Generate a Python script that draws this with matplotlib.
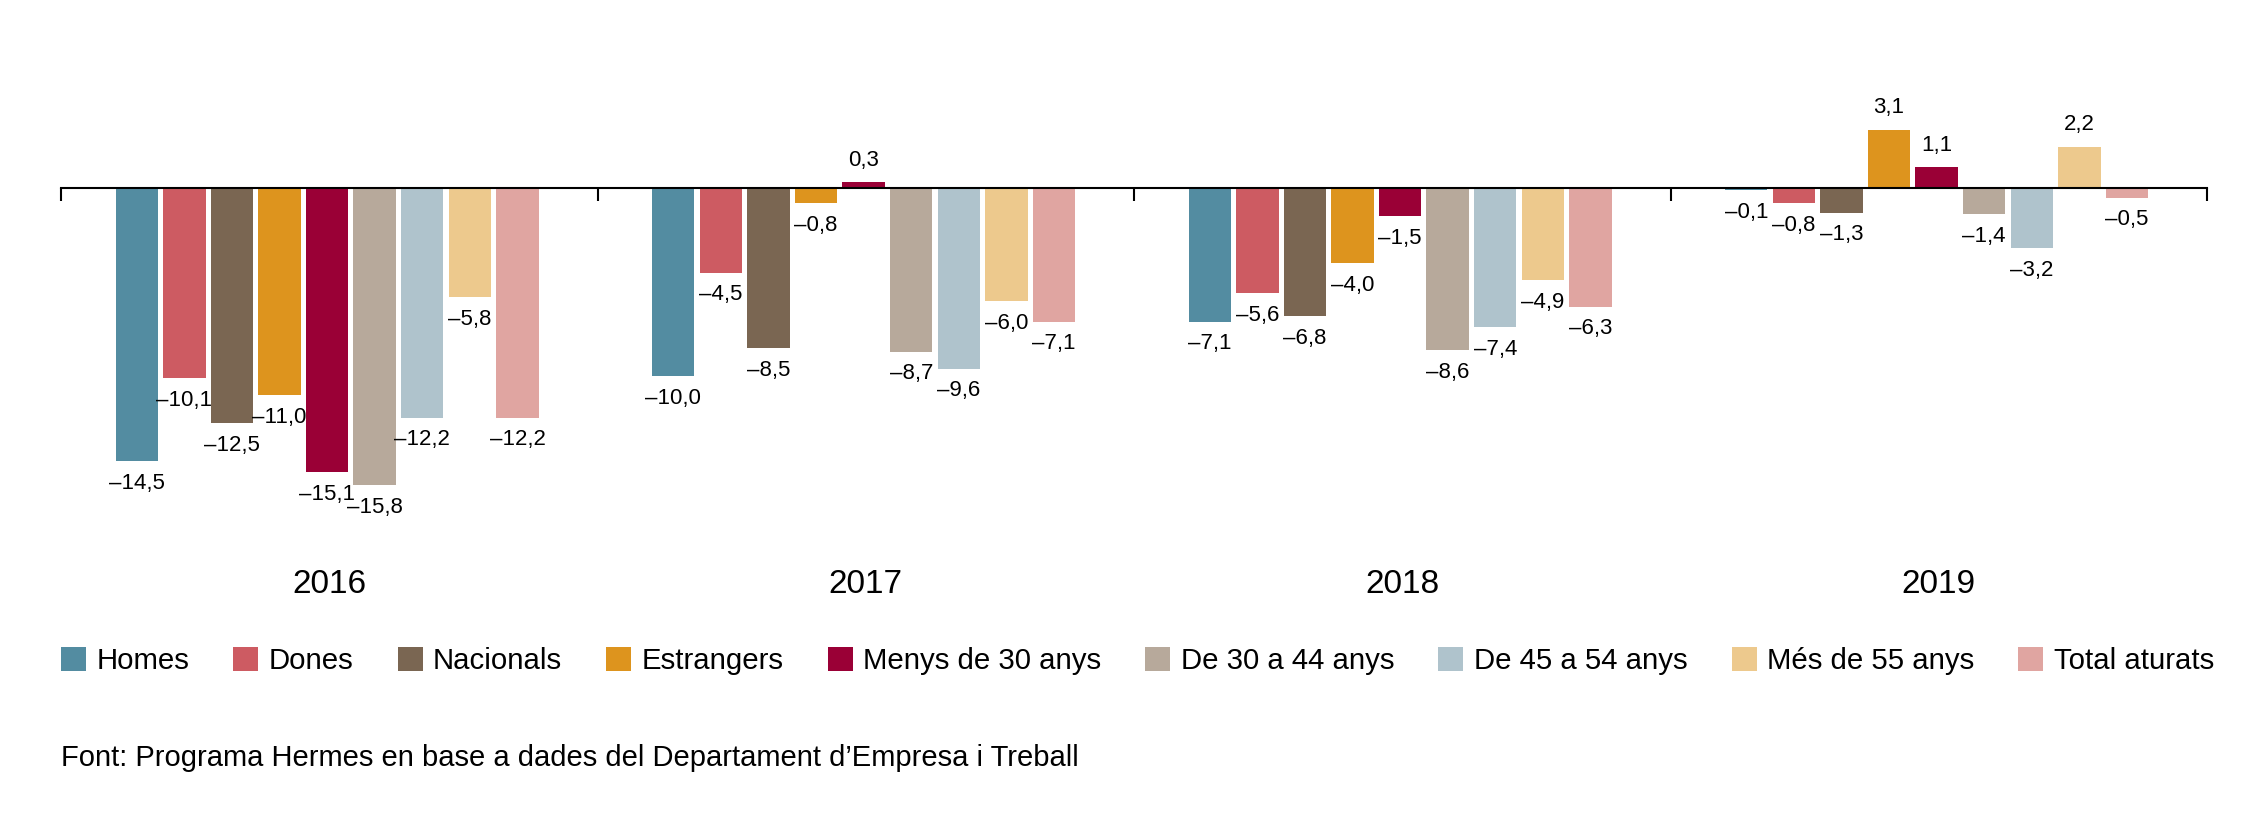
import numpy as np
import matplotlib
matplotlib.use("Agg")
import matplotlib.pyplot as plt
from matplotlib.patches import Patch

plt.rcParams['font.family'] = ['Liberation Sans', 'DejaVu Sans']

# dades
anys = ['2016', '2017', '2018', '2019']
series = ['Homes', 'Dones', 'Nacionals', 'Estrangers', 'Menys de 30 anys',
          'De 30 a 44 anys', 'De 45 a 54 anys', 'Més de 55 anys', 'Total aturats']
homes = [-14.5, -10.0, -7.1, -0.1]
dones = [-10.1, -4.5, -5.6, -0.8]
nacionals = [-12.5, -8.5, -6.8, -1.3]
estrangers = [-11.0, -0.8, -4.0, 3.1]
menys30 = [-15.1, 0.3, -1.5, 1.1]
de30a44 = [-15.8, -8.7, -8.6, -1.4]
de45a54 = [-12.2, -9.6, -7.4, -3.2]
mes55 = [-5.8, -6.0, -4.9, 2.2]
total = [-12.2, -7.1, -6.3, -0.5]
valors = [homes, dones, nacionals, estrangers, menys30, de30a44, de45a54, mes55, total]

colors = ['#538ca1', '#cd5b62', '#7a6652', '#dd941e', '#9a0036',
          '#b7a99b', '#afc3cc', '#edc98d', '#e0a5a1']

fig = plt.figure(figsize=(22.68, 8.33), dpi=100)
ax = fig.add_axes([61 / 2268, 0.3, (2207 - 61) / 2268, 0.7])

x = np.arange(len(anys))
pas = 0.0887
amplada = 0.079
for i, (vals, col) in enumerate(zip(valors, colors)):
    pos = x + (i - 4) * pas - 0.004
    ax.bar(pos, vals, width=amplada, color=col, zorder=1)
    for px, v in zip(pos, vals):
        txt = f"{abs(v):.1f}".replace('.', ',')
        if v < 0:
            txt = '–' + txt
        off = 16 if v > 0 else -16
        ax.annotate(txt, (px, v), xytext=(0, off), textcoords='offset points',
                    ha='center', va='center', fontsize=16)

ax.set_xlim(-0.5, 3.5)
ax.set_ylim(-21, 10)
for s in ['top', 'left', 'right']:
    ax.spines[s].set_visible(False)
ax.spines['bottom'].set_position(('data', 0))
ax.spines['bottom'].set_linewidth(1.5)
ax.set_yticks([])
ax.set_xticks(np.arange(-0.5, 4, 1))
ax.set_xticklabels([])
ax.tick_params(axis='x', direction='out', length=9.5, width=1.5)

for xi, a in zip(x, anys):
    ax.text(xi, -21.1, a, ha='center', va='center', fontsize=24, clip_on=False)

handles = [Patch(facecolor=c, edgecolor='none') for c in colors]
fig.legend(handles, series, loc='center left', bbox_to_anchor=(61 / 2268, 1 - 661 / 833),
           ncol=9, frameon=False, fontsize=21.2, handlelength=0.85, handleheight=0.85,
           handletextpad=0.35, columnspacing=1.5, borderpad=0, borderaxespad=0)

fig.text(61 / 2268, 1 - 758 / 833,
         'Font: Programa Hermes en base a dades del Departament d’Empresa i Treball',
         ha='left', va='center', fontsize=21)

fig.savefig('out.png', dpi=100)
